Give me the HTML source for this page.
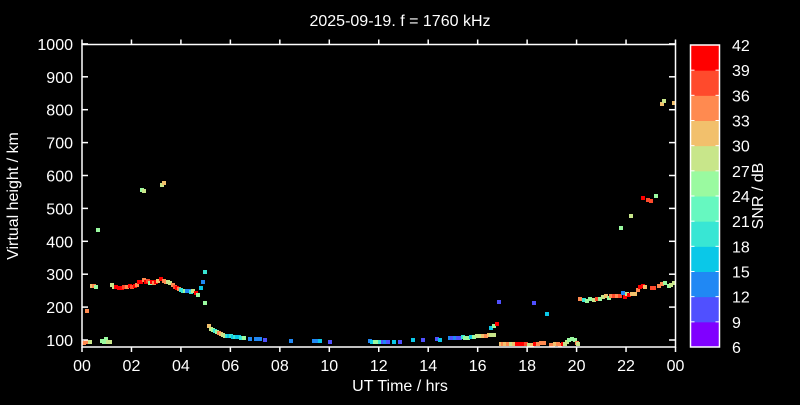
<!DOCTYPE html>
<html><head><meta charset="utf-8"><style>
body{margin:0;background:#000;width:800px;height:400px;overflow:hidden}
svg text{font-family:"Liberation Sans",sans-serif;fill:#fff}
</style></head><body>
<svg id="s" width="800" height="400" xmlns="http://www.w3.org/2000/svg">
<rect width="800" height="400" fill="#000"/>
<text x="400" y="26" font-size="16" text-anchor="middle">2025-09-19. f = 1760 kHz</text>
<g id="pts"></g>
<g stroke="#fff" stroke-width="1.5" fill="none">
<path d="M82,44.5 H675.5 V347 H82 Z"/>
</g>
<g id="ax" font-size="16"></g>
<text x="400" y="391" font-size="16" text-anchor="middle">UT Time / hrs</text>
<text transform="translate(18,196) rotate(-90)" font-size="16" text-anchor="middle">Virtual height / km</text>
<g id="cb"></g>
<text transform="translate(763,196) rotate(-90)" font-size="16" text-anchor="middle">SNR / dB</text>
</svg>
<script>
const NS="http://www.w3.org/2000/svg";
function el(p,t,a,txt){const e=document.createElementNS(NS,t);for(const k in a)e.setAttribute(k,a[k]);if(txt!==undefined)e.textContent=txt;p.appendChild(e);return e;}
const C=["#8000ff","#5050ff","#2088f4","#0ac8e8","#38e6d4","#66f8c0","#9afaa0","#c8e68a","#f2c06c","#ff8a50","#ff4a2c","#ff0000"];
const ax=document.getElementById('ax');
for(let v=100;v<=1000;v+=100){const y=340-(v-100)*32.9/100;
el(ax,'line',{x1:82,x2:88,y1:y,y2:y,stroke:'#fff','stroke-width':1.5});
el(ax,'line',{x1:669,x2:675,y1:y,y2:y,stroke:'#fff','stroke-width':1.5});
el(ax,'text',{x:73,y:y+6,'text-anchor':'end'},String(v));}
for(let h=0;h<=24;h+=2){const x=82+h*593.5/24;
el(ax,'line',{x1:x,x2:x,y1:347,y2:352,stroke:'#fff','stroke-width':1.5});
el(ax,'line',{x1:x,x2:x,y1:44.5,y2:39.5,stroke:'#fff','stroke-width':1.5});
const hh=h%24;
el(ax,'text',{x:x,y:371,'text-anchor':'middle'},(hh<10?'0':'')+hh);}
const cb=document.getElementById('cb');const bh=302/12;
for(let i=0;i<12;i++){el(cb,'rect',{x:690.5,y:45+(11-i)*bh,width:29,height:bh+0.5,fill:C[i]});}
el(cb,'rect',{x:690.5,y:45,width:29,height:302,fill:'none',stroke:'#fff','stroke-width':1.5});
for(let i=0;i<=12;i++){const y=347-i*bh;
el(cb,'line',{x1:690.5,x2:694.5,y1:y,y2:y,stroke:'#fff'});el(cb,'line',{x1:715.5,x2:719.5,y1:y,y2:y,stroke:'#fff'});
el(cb,'text',{x:732,y:y+6},String(6+3*i));}
const P=[
[84,343,9],[86,342,9],[87,311,9],[90,342,7],[92,286,8],[94,286,9],[96,287,6],[98,230,6],[102,341,6],[104,342,6],[106,339,6],[108,342,7],[110,342,7],
[112,285,7],[114,287,7],[116,287,11],[119,288,11],[122,288,11],[124,287,10],[127,287,9],[130,286,11],[132,287,10],[135,286,11],[137,285,9],[139,282,11],[141,282,11],
[144,280,9],[146,282,11],[148,281,10],[150,283,6],[152,282,11],[154,283,9],[156,282,11],[158,281,8],[161,279,11],[164,281,9],[166,282,9],[168,282,7],[170,283,7],
[173,285,9],[175,287,10],[177,288,11],[179,289,9],[181,290,4],[183,291,4],[185,291,6],[187,291,2],[189,291,2],[191,292,4],[193,291,7],[196,293,11],[198,295,6],
[201,288,3],[203,282,2],[205,272,4],[205,303,6],[142,190,6],[144,191,7],[162,185,7],[164,183,8],
[209,326,8],[211,329,7],[213,330,6],[215,331,4],[217,332,6],[219,333,9],[221,334,8],[223,335,7],[225,336,7],[227,336,4],[229,336,3],[231,336,4],[233,337,3],[235,337,4],[237,337,3],[239,337,3],[241,338,4],[244,338,6],[250,339,2],[256,339,2],[260,339,2],[265,340,1],[291,341,2],[314,341,2],[317,341,2],[320,341,3],[330,342,1],
[370,341,2],[372,342,3],[375,342,6],[377,342,6],[380,342,4],[383,342,1],[385,342,2],[388,342,1],[394,342,3],[400,342,1],[413,340,3],[423,340,1],[437,339,1],[440,340,3],
[450,338,2],[452,338,1],[455,338,2],[458,338,1],[460,338,1],[463,337,4],[465,338,6],[468,338,6],[471,337,3],[474,337,6],[477,336,7],[480,336,7],[483,336,8],[486,336,9],[489,335,8],[491,335,7],[494,335,7],
[491,328,3],[494,326,6],[497,324,11],[499,302,1],[534,303,1],[547,314,3],
[501,344,8],[503,344,9],[505,344,8],[508,344,9],[511,344,7],[514,344,8],[517,344,11],[520,344,11],[523,344,11],[526,344,10],[529,345,7],[532,345,8],[535,344,11],[538,344,9],[541,343,9],[544,343,9],
[551,345,9],[553,345,9],[555,344,8],[558,344,9],[560,345,9],[563,344,11],[565,344,7],[567,342,7],[569,340,6],[572,339,6],[575,340,6],[577,343,9],[578,344,7],
[580,299,9],[584,300,4],[587,301,6],[590,299,6],[594,300,7],[597,299,10],[600,299,6],[603,297,7],[606,296,8],[609,298,6],[611,296,9],[614,296,10],[617,296,9],[620,296,10],[623,293,2],[625,297,11],[627,294,7],[629,295,11],[632,294,8],[635,294,8],
[638,290,9],[640,287,11],[643,286,11],[645,287,8],[652,288,10],[654,288,10],[659,286,9],[662,284,9],[665,283,6],[669,286,6],[671,285,7],[674,283,7],
[621,228,6],[631,216,7],[643,198,11],[648,200,10],[651,201,10],[656,196,6],[662,104,8],[664,101,7],[674,103,8]
];
const g=document.getElementById('pts');
for(const [x,y,c] of P)el(g,'rect',{x:x-2,y:y-2,width:4,height:4,fill:C[c]});
</script>
</body></html>
